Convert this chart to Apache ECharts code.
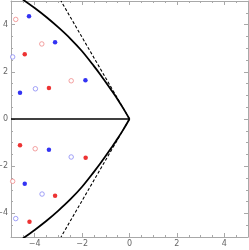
<!DOCTYPE html>
<html>
<head>
<meta charset="utf-8">
<script src="https://cdn.jsdelivr.net/npm/echarts@6/dist/echarts.min.js"></script>
<style>html,body{margin:0;padding:0;background:#fff}#c{width:249px;height:250px}</style>
</head>
<body>
<div id="c"></div>
<script>
const majorTicks = [-4, -2, 0, 2, 4];
const minorTicks = [-4.5, -3.5, -3, -2.5, -1.5, -1, -0.5, 0.5, 1, 1.5, 2.5, 3, 3.5, 4.5];
const filledRed = [[-4.42, 2.74], [-3.40, 1.31], [-4.62, -1.11], [-1.85, -1.64], [-3.14, -3.25], [-4.22, -4.35]];
const filledBlue = [[-4.24, 4.35], [-3.14, 3.25], [-1.86, 1.64], [-4.62, 1.11], [-3.40, -1.30], [-4.42, -2.74]];
const openRed = [[-4.80, 4.22], [-3.70, 3.18], [-2.46, 1.62], [-3.98, -1.26], [-4.93, -2.64]];
const openBlue = [[-4.93, 2.63], [-3.97, 1.28], [-2.46, -1.61], [-3.69, -3.18], [-4.80, -4.22]];
const curveUpper = [[0, 0], [-0.25, 0.43], [-0.5, 0.83], [-0.75, 1.20], [-1.0, 1.56], [-1.25, 1.91], [-1.5, 2.24], [-2.0, 2.87], [-2.5, 3.41], [-3.0, 3.88], [-3.5, 4.31], [-4.0, 4.70], [-4.5, 5.06]];
const curveLower = [[0, 0], [-0.25, -0.43], [-0.5, -0.83], [-0.75, -1.20], [-1.0, -1.56], [-1.25, -1.91], [-1.5, -2.24], [-2.0, -2.87], [-2.5, -3.41], [-3.0, -3.88], [-3.5, -4.31], [-4.0, -4.70], [-4.5, -5.06]];
const dashUpper = [[0, 0], [-2.89, 5.0]];
const dashLower = [[0, 0], [-2.89, -5.0]];
const axisLineData = [[-5, 0], [0, 0]];

const frameColor = '#a8a8a8';
const labelColor = '#666';
function fmt(v){ return v < 0 ? '\u2212' + Math.abs(v) : String(v); }
function mkAxis(pos, major, showLabel, showLine){
  return {
    type: 'value', min: -5, max: 5, position: pos,
    axisLine: {show: showLine, onZero: false, lineStyle: {color: frameColor, width: 1}},
    axisTick: {show: true, inside: true, length: major ? 4 : 2, customValues: major ? majorTicks : minorTicks, lineStyle: {color: frameColor, width: 1}},
    axisLabel: {show: showLabel, customValues: majorTicks, formatter: fmt, color: labelColor, fontSize: 8, fontFamily: 'DejaVu Sans', margin: 3},
    splitLine: {show: false}
  };
}
const chart = echarts.init(document.getElementById('c'), null, {renderer: 'canvas'});
const blackLine = (data, w, type, smooth) => ({type: 'line', data, showSymbol: false, symbol: 'none', clip: true, smooth: smooth || false, lineStyle: {color: '#000', width: w, type: type || 'solid'}, animation: false, z: 2});
const pts = (data, color, open) => ({
  type: 'scatter', data, symbol: 'circle', symbolSize: 4.5,
  itemStyle: open ? {color: '#fff', borderColor: color, borderWidth: 1} : {color: color, borderWidth: 0},
  animation: false, z: 3
});
chart.setOption({
  animation: false,
  grid: {left: 11, right: 1, top: 1, bottom: 13, containLabel: false, outerBoundsMode: 'none'},
  xAxis: [mkAxis('bottom', true, true, true), mkAxis('bottom', false, false, false), mkAxis('top', true, false, true), mkAxis('top', false, false, false)],
  yAxis: [mkAxis('left', true, true, true), mkAxis('left', false, false, false), mkAxis('right', true, false, true), mkAxis('right', false, false, false)],
  series: [
    blackLine(axisLineData, 1.6),
    blackLine(curveUpper, 1.8, 'solid', 0.3),
    blackLine(curveLower, 1.8, 'solid', 0.3),
    blackLine(dashUpper, 1.1, [3, 2]),
    blackLine(dashLower, 1.1, [3, 2]),
    pts(openRed, '#f08a8a', true),
    pts(openBlue, '#8a8af5', true),
    pts(filledRed, '#e80000', false),
    pts(filledBlue, '#0000f0', false)
  ]
});
</script>
</body>
</html>
